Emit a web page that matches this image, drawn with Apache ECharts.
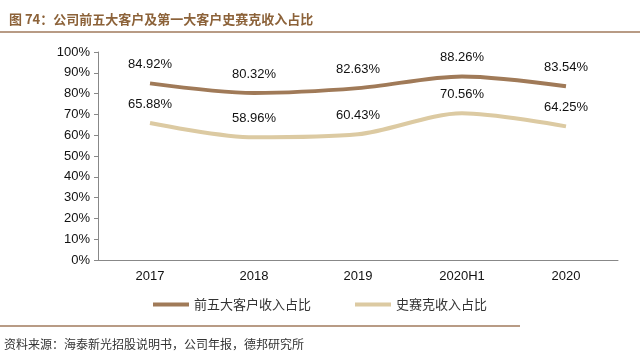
<!DOCTYPE html>
<html>
<head>
<meta charset="utf-8">
<script src="https://cdn.jsdelivr.net/npm/echarts@6/dist/echarts.min.js"></script>
<style>
  html, body { margin: 0; padding: 0; background: #fff; }
  #main { width: 640px; height: 354px; }
</style>
</head>
<body>
<div id="main"></div>
<script>
var categories = ['2017', '2018', '2019', '2020H1', '2020'];
var top5Share = [84.92, 80.32, 82.63, 88.26, 83.54];
var stihlShare = [65.88, 58.96, 60.43, 70.56, 64.25];
var seriesNames = ['前五大客户收入占比', '史赛克收入占比'];

var chart = echarts.init(document.getElementById('main'));
var font = '"Noto Sans CJK SC", "Liberation Sans", sans-serif';
var numFont = '"Liberation Sans", Arial, sans-serif';

function pctLabel(p) {
  return p.value.toFixed(2) + '%';
}

var option = {
  animation: false,
  backgroundColor: '#fff',
  title: {
    text: '图 74：公司前五大客户及第一大客户史赛克收入占比',
    left: 4,
    top: 8,
    textStyle: { color: '#8c6239', fontSize: 13, fontWeight: 'bold', fontFamily: font }
  },
  graphic: [
    { type: 'line', shape: { x1: 0, y1: 32, x2: 640, y2: 32 }, style: { stroke: '#a07a5c', lineWidth: 1.5 } },
    { type: 'line', shape: { x1: 0, y1: 326, x2: 520, y2: 326 }, style: { stroke: '#a07a5c', lineWidth: 1.5 } },
    { type: 'text', left: 4, top: 338, style: { text: '资料来源：海泰新光招股说明书，公司年报，德邦研究所', fill: '#333', fontSize: 12, fontFamily: font } }
  ],
  legend: {
    data: seriesNames,
    bottom: 38,
    left: 'center',
    itemWidth: 36,
    itemHeight: 4,
    itemGap: 44,
    icon: 'rect',
    textStyle: { color: '#333', fontSize: 13, fontFamily: font }
  },
  grid: { left: 98, right: 22, top: 52, bottom: 94 },
  xAxis: {
    type: 'category',
    data: categories,
    boundaryGap: true,
    axisLine: { lineStyle: { color: '#888' } },
    axisTick: { show: false },
    axisLabel: { color: '#111', fontSize: 13, margin: 10, fontFamily: numFont }
  },
  yAxis: {
    type: 'value',
    min: 0,
    max: 100,
    interval: 10,
    splitLine: { show: false },
    axisLine: { show: true, lineStyle: { color: '#888' } },
    axisTick: { show: true, length: 4, lineStyle: { color: '#888' } },
    axisLabel: { color: '#111', fontSize: 13, margin: 8, formatter: '{value}%', fontFamily: numFont }
  },
  series: [
    {
      name: seriesNames[0],
      type: 'line',
      data: top5Share,
      symbol: 'circle',
      symbolSize: 0,
      showSymbol: true,
      smooth: 0.3,
      lineStyle: { color: '#a07a58', width: 4 },
      itemStyle: { color: '#a07a58' },
      label: { show: true, position: 'top', distance: 12, color: '#111', fontSize: 13, fontFamily: numFont, formatter: pctLabel }
    },
    {
      name: seriesNames[1],
      type: 'line',
      data: stihlShare,
      symbol: 'circle',
      symbolSize: 0,
      showSymbol: true,
      smooth: 0.3,
      lineStyle: { color: '#dccaa2', width: 4 },
      itemStyle: { color: '#dccaa2' },
      label: { show: true, position: 'top', distance: 12, color: '#111', fontSize: 13, fontFamily: numFont, formatter: pctLabel }
    }
  ]
};
chart.setOption(option);
</script>
</body>
</html>
